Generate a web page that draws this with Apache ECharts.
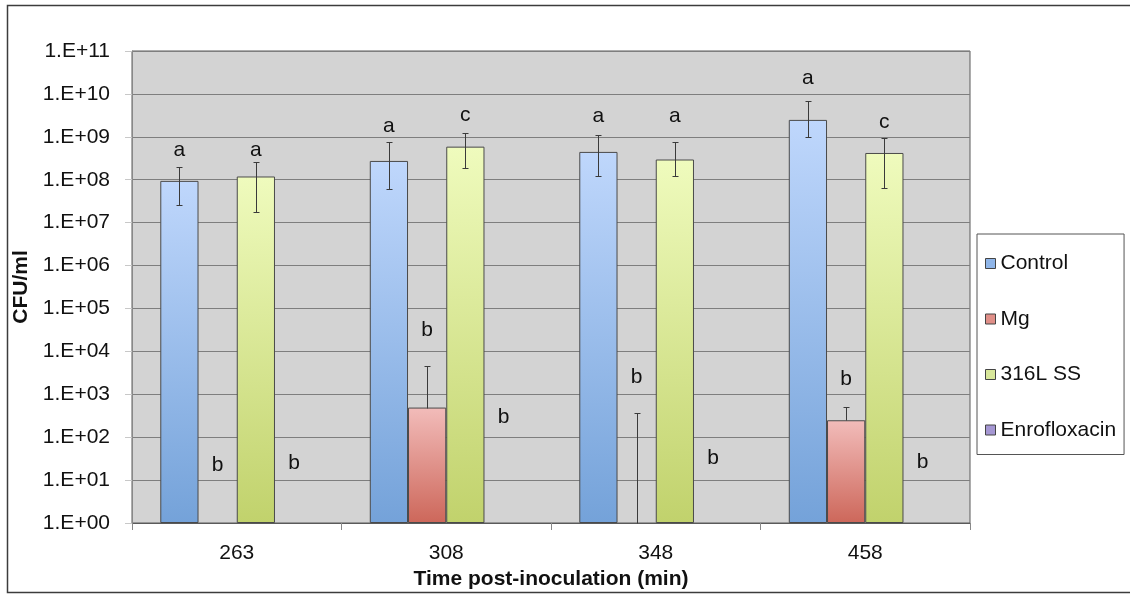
<!DOCTYPE html>
<html><head><meta charset="utf-8">
<script src="https://cdn.jsdelivr.net/npm/echarts@6/dist/echarts.min.js"></script>
<style>html,body{margin:0;padding:0;background:#fff}#c{width:1130px;height:595px}</style>
</head><body><div id="c"></div>
<script>
// ---- data ----
const categories = ['263', '308', '348', '458'];
const seriesNames = ['Control', 'Mg', '316L SS', 'Enrofloxacin'];

const controlVals = [9.4e7, 2.74e8, 4.45e8, 2.48e9];
const mgVals      = [null, 490, null, 248];
const ssVals      = [1.19e8, 5.9e8, 2.96e8, 4.2e8];
const enroVals    = [null, null, null, null];

const controlErrHigh = [2.03e8, 7.4e8, 1.13e9, 6.8e9];
const controlErrLow  = [2.64e7, 6.2e7, 1.25e8, 1.0e9];
const mgErrHigh      = [null, 4500, 365, 500];
const mgErrLow       = [null, null, null, null];
const ssErrHigh      = [2.56e8, 1.26e9, 7.6e8, 9.3e8];
const ssErrLow       = [1.78e7, 1.88e8, 1.25e8, 6.3e7];

const controlLetters = ['a', 'a', 'a', 'a'];
const mgLetters      = ['b', 'b', 'b', 'b'];
const ssLetters      = ['a', 'c', 'a', 'c'];
const enroLetters    = ['b', 'b', 'b', 'b'];
// value-axis level (CFU/ml) at which each letter sits
const controlLetterAt = [4.6e8, 1.7e9, 2.9e9, 2.17e10];
const mgLetterAt      = [22, 3.1e4, 2450, 2240];
const ssLetterAt      = [4.6e8, 3.07e9, 2.9e9, 2.04e9];
const enroLetterAt    = [25, 296, 33, 25.6];

// ---- build ----
const FONT = 'Liberation Sans';
const allVals = [controlVals, mgVals, ssVals, enroVals];
const errHigh = [controlErrHigh, mgErrHigh, ssErrHigh, [null, null, null, null]];
const errLow = [controlErrLow, mgErrLow, ssErrLow, [null, null, null, null]];
const letters = [controlLetters, mgLetters, ssLetters, enroLetters];
const letterAt = [controlLetterAt, mgLetterAt, ssLetterAt, enroLetterAt];

const gradients = [
  ['#bfd7fc', '#74a2d9'],
  ['#f2bcba', '#cd675a'],
  ['#effbbd', '#c1d26c'],
  ['#b7aae0', '#8e7fc4']
];
const legendColors = ['#8fb5e8', '#e08f88', '#d8e79a', '#a597d3'];

const CAT_GAP = 0.27;
function barOffset(api, cat, s, v) {
  const c0 = api.coord([0, v]);
  const c1 = api.coord([1, v]);
  const band = c1[0] - c0[0];
  const barW = band * (1 - CAT_GAP) / 4;
  return api.coord([cat, v])[0] + (s - 1.5) * barW;
}

const errData = [];
for (let s = 0; s < 4; s++) {
  for (let c = 0; c < categories.length; c++) {
    const hi = errHigh[s][c];
    if (hi == null) continue;
    const lo = errLow[s][c];
    const base = lo != null ? lo : (allVals[s][c] != null ? allVals[s][c] : 1);
    errData.push([c, s, base, hi, lo != null ? 1 : 0]);
  }
}

const letterItems = [];
for (let s = 0; s < 4; s++) {
  for (let c = 0; c < categories.length; c++) {
    letterItems.push({ c: c, s: s, at: letterAt[s][c], t: letters[s][c] });
  }
}

const series = seriesNames.map((name, s) => ({
  name: name,
  type: 'bar',
  barGap: '0%',
  barCategoryGap: (CAT_GAP * 100) + '%',
  data: allVals[s],
  itemStyle: {
    color: new echarts.graphic.LinearGradient(0, 0, 0, 1, [
      { offset: 0, color: gradients[s][0] },
      { offset: 1, color: gradients[s][1] }
    ]),
    borderColor: '#4a4a4a',
    borderWidth: 1
  },
  emphasis: { disabled: true }
}));

series.push({
  type: 'custom',
  name: 'errors',
  silent: true,
  z: 5,
  encode: { x: 0, y: 3 },
  data: errData,
  renderItem: function (params, api) {
    const cat = api.value(0), s = api.value(1), lo = api.value(2), hi = api.value(3), cap = api.value(4);
    const x = Math.round(barOffset(api, cat, s, hi)) + 0.5;
    const yHi = Math.round(api.coord([cat, hi])[1]) + 0.5;
    const yLo = Math.round(api.coord([cat, lo])[1]) + 0.5;
    const st = { stroke: '#3a3a3a', lineWidth: 1 };
    const ch = [
      { type: 'line', shape: { x1: x, y1: yLo, x2: x, y2: yHi }, style: st },
      { type: 'line', shape: { x1: x - 3, y1: yHi, x2: x + 3, y2: yHi }, style: st }
    ];
    if (cap) ch.push({ type: 'line', shape: { x1: x - 3, y1: yLo, x2: x + 3, y2: yLo }, style: st });
    return { type: 'group', children: ch };
  }
});

series.push({
  type: 'custom',
  name: 'letters',
  silent: true,
  z: 6,
  encode: { x: 0, y: 2 },
  data: letterItems.map(d => [d.c, d.s, d.at]),
  renderItem: function (params, api) {
    const d = letterItems[params.dataIndex];
    const x = barOffset(api, d.c, d.s, d.at);
    let y = api.coord([d.c, d.at])[1];
    if (d.t !== 'b') y -= 1;
    return {
      type: 'text',
      style: {
        text: d.t, x: x, y: y, align: 'center', verticalAlign: 'middle',
        fontSize: 21, fontFamily: FONT, fill: '#111'
      }
    };
  }
});

const chart = echarts.init(document.getElementById('c'), null, { renderer: 'canvas' });
chart.setOption({
  animation: false,
  backgroundColor: '#ffffff',
  textStyle: { fontFamily: FONT },
  graphic: [{
    type: 'rect',
    shape: { x: 7.5, y: 5.5, width: 1140, height: 587 },
    style: { fill: 'none', stroke: '#3c3c3c', lineWidth: 1.5 },
    silent: true, z: -10
  }],
  grid: {
    left: 132, top: 51, right: 160, bottom: 72,
    show: true, backgroundColor: '#d3d3d3', borderColor: '#5a5a5a', borderWidth: 1
  },
  legend: {
    orient: 'vertical',
    left: 977, top: 234,
    padding: [19, 8, 14, 8],
    itemGap: 34.5,
    itemWidth: 10, itemHeight: 10,
    itemTextGap: 5,
    icon: 'rect',
    borderColor: '#555', borderWidth: 1,
    backgroundColor: '#fff',
    selectedMode: false,
    textStyle: { fontSize: 21, lineHeight: 21, color: '#111', fontFamily: FONT },
    data: seriesNames.map((n, i) => ({
      name: n,
      itemStyle: { color: legendColors[i], borderColor: '#444', borderWidth: 1 }
    }))
  },
  xAxis: {
    type: 'category',
    data: categories,
    name: 'Time post-inoculation (min)',
    nameLocation: 'middle',
    nameGap: 45,
    nameTextStyle: { fontSize: 21, fontWeight: 'bold', color: '#111', fontFamily: FONT },
    axisLine: { show: true, lineStyle: { color: '#5a5a5a', width: 1 } },
    axisTick: { show: true, length: 7, interval: 0, lineStyle: { color: '#888' } },
    axisLabel: { fontSize: 21, color: '#111', margin: 20, fontFamily: FONT },
    splitLine: { show: false }
  },
  yAxis: {
    type: 'log',
    logBase: 10,
    min: 1,
    max: 1e11,
    interval: 1,
    name: 'CFU/ml',
    nameLocation: 'middle',
    nameGap: 92,
    nameRotate: 90,
    nameTextStyle: { fontSize: 21, fontWeight: 'bold', color: '#111', fontFamily: FONT },
    axisLine: { show: true, lineStyle: { color: '#888' } },
    axisTick: { show: true, length: 7, lineStyle: { color: '#c8c8c8' } },
    axisLabel: {
      fontSize: 21, color: '#111', margin: 22, fontFamily: FONT,
      formatter: function (v) {
        const e = Math.round(Math.log10(v));
        return '1.E+' + (e < 10 ? '0' + e : '' + e);
      }
    },
    splitLine: { show: true, lineStyle: { color: '#7e7e7e', width: 1 } }
  },
  series: series
});
</script>
</body></html>
